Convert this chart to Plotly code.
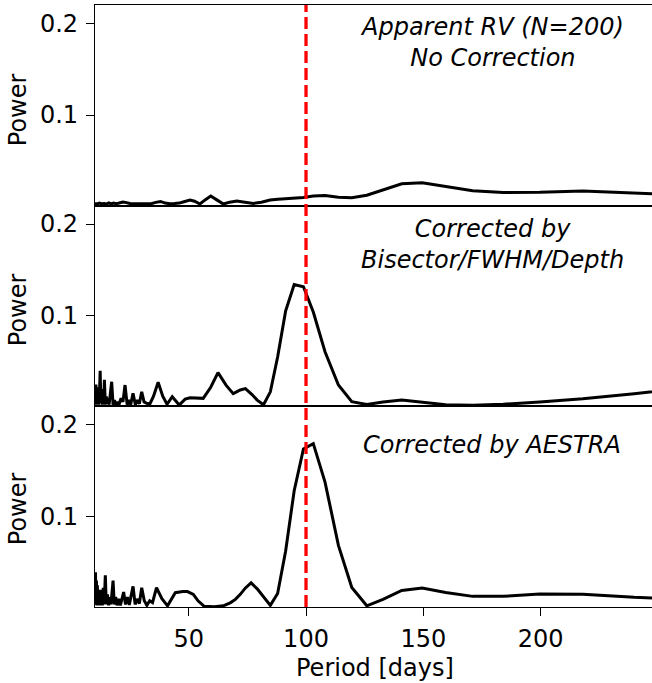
import plotly.graph_objects as go
from plotly.subplots import make_subplots

# ---------------- data ----------------
period_raw = [10.1, 11, 12, 13, 14, 15, 16, 17, 18, 19, 20, 21, 22, 23, 24, 25, 26, 28, 30, 32,
              34, 36, 38, 40, 42, 44, 46, 48, 50.6, 52.5, 54.8, 57, 59.4, 62, 64.8, 67.5, 70.5,
              74, 77.6, 81, 84.7, 88, 91.3, 95, 98.9, 103.1, 108.1, 113.8, 119.5, 125.9, 132.8,
              140.8, 149.5, 159.5, 171, 184, 199.6, 217.9, 239.8, 266.7]
power_raw = [0.0035, 0.0030, 0.0040, 0.0032, 0.0036, 0.0030, 0.0042, 0.0031, 0.0040, 0.0033,
             0.0038, 0.0045, 0.0052, 0.0048, 0.0040, 0.0036, 0.0034, 0.0035, 0.0033, 0.0036,
             0.0034, 0.0048, 0.0058, 0.0040, 0.0033, 0.0035, 0.0040, 0.0055, 0.0073, 0.0060,
             0.0030, 0.0075, 0.0117, 0.0075, 0.0030, 0.0050, 0.0063, 0.0050, 0.0037, 0.0050,
             0.0073, 0.0082, 0.0085, 0.0090, 0.0100, 0.0117, 0.0122, 0.0105, 0.0098, 0.0125,
             0.0180, 0.0250, 0.0262, 0.0220, 0.0175, 0.0155, 0.0158, 0.0172, 0.0148, 0.0120]

period_bis = [10.1, 10.3, 10.5, 10.7, 10.9, 11.1, 11.4, 11.7, 12.0, 12.3, 12.6, 12.9, 13.2, 13.5,
              13.8, 14.1, 14.5, 14.9, 15.3, 15.7, 16.1, 16.6, 17.2, 17.8, 18.4, 19.0, 19.6, 20.3,
              21.2, 22.0, 22.9, 23.8, 24.6, 25.3, 26.3, 27.3, 28.2, 29.0, 30.0, 31.0, 32.1, 33.5,
              35.0, 37.0, 39.0, 40.8, 43.0, 46.0, 48.5, 50.6, 53.0, 56.2, 59.4, 62.5, 66.0, 69.0,
              72.0, 74.2, 77.0, 79.2, 81.9, 84.8, 87.9, 91.3, 94.96, 98.9, 103.1, 108.1, 113.8,
              119.5, 125.9, 132.8, 140.8, 149.5, 159.5, 171, 184, 199.6, 217.9, 239.8, 266.7]
power_bis = [0.020, 0.004, 0.025, 0.003, 0.018, 0.004, 0.022, 0.003, 0.015, 0.040, 0.005, 0.012,
             0.003, 0.020, 0.004, 0.030, 0.003, 0.012, 0.004, 0.010, 0.003, 0.012, 0.028, 0.003,
             0.008, 0.003, 0.006, 0.003, 0.010, 0.006, 0.0244, 0.003, 0.008, 0.003, 0.0154, 0.003,
             0.008, 0.004, 0.0171, 0.006, 0.0045, 0.004, 0.012, 0.0274, 0.012, 0.0035, 0.0117,
             0.0026, 0.009, 0.0105, 0.0103, 0.0099, 0.022, 0.038, 0.024, 0.0150, 0.019, 0.0205,
             0.014, 0.008, 0.003, 0.017, 0.055, 0.105, 0.134, 0.1316, 0.104, 0.0607, 0.0244,
             0.0062, 0.0032, 0.006, 0.008, 0.006, 0.003, 0.0025, 0.0035, 0.006, 0.0095, 0.0150,
             0.0224]

period_aes = [10.1, 10.3, 10.5, 10.7, 10.9, 11.1, 11.3, 11.6, 11.9, 12.3, 12.6, 12.9, 13.2, 13.6,
              14.0, 14.5, 14.9, 15.4, 15.9, 16.4, 16.9, 17.4, 17.8, 18.3, 18.9, 19.5, 20.2, 20.9,
              21.6, 22.3, 23.1, 23.9, 24.7, 25.5, 26.3, 27.2, 28.1, 29.0, 30.0, 31.1, 32.2, 33.4,
              34.6, 36.3, 38.6, 41.0, 44.3, 47.5, 49.5, 52.0, 54.0, 56.6, 60.9, 64.8, 67.9, 69.9,
              72.0, 74.2, 76.6, 79.2, 81.9, 84.8, 87.9, 91.3, 94.96, 98.9, 103.1, 108.1, 113.8,
              119.5, 125.9, 132.8, 140.8, 149.5, 159.5, 171, 184, 199.6, 217.9, 239.8, 266.7]
power_aes = [0.010, 0.039, 0.004, 0.030, 0.003, 0.025, 0.004, 0.020, 0.003, 0.020, 0.004, 0.015,
             0.003, 0.022, 0.004, 0.0357, 0.004, 0.015, 0.003, 0.012, 0.004, 0.020, 0.030, 0.004,
             0.012, 0.003, 0.010, 0.003, 0.012, 0.0175, 0.004, 0.012, 0.0035, 0.015, 0.0237,
             0.004, 0.010, 0.005, 0.0222, 0.008, 0.003, 0.008, 0.006, 0.0222, 0.0103, 0.0025,
             0.0168, 0.018, 0.018, 0.0150, 0.008, 0.002, 0.0015, 0.0025, 0.006, 0.0095, 0.015,
             0.022, 0.0275, 0.021, 0.0125, 0.003, 0.016, 0.062, 0.128, 0.1735, 0.1793, 0.1374,
             0.0684, 0.0225, 0.0025, 0.0095, 0.0193, 0.0218, 0.017, 0.0128, 0.0128, 0.0155,
             0.015, 0.0118, 0.0095]

panel_labels = ["Apparent RV (N=200)<br>No Correction",
                "Corrected by<br>Bisector/FWHM/Depth",
                "Corrected by AESTRA"]
true_period = 100
x_ticks = [50, 100, 150, 200]
y_ticks = [0.1, 0.2]
y_tick_text = ["0.1", "0.2"]

# ---------------- figure ----------------
FONT = "DejaVu Sans"
FS = 24
fig = make_subplots(rows=3, cols=1, shared_xaxes=True, vertical_spacing=0)

series = [(period_raw, power_raw), (period_bis, power_bis), (period_aes, power_aes)]
for i, (px, py) in enumerate(series, start=1):
    fig.add_trace(go.Scatter(x=px, y=py, mode="lines",
                             line=dict(color="black", width=3), showlegend=False,
                             hoverinfo="skip"), row=i, col=1)

for i in range(1, 4):
    fig.update_xaxes(range=[10.1, 247.4], showgrid=False, zeroline=False,
                     showline=True, linecolor="black", linewidth=1.3, mirror=True,
                     tickvals=x_ticks, ticks="outside" if i == 3 else "",
                     ticklen=8, tickwidth=1.3, tickcolor="black",
                     showticklabels=(i == 3), ticklabelstandoff=2,
                     tickfont=dict(family=FONT, size=FS, color="black"),
                     row=i, col=1)
    fig.update_yaxes(range=[0.0012, 0.22], showgrid=False, zeroline=False,
                     showline=True, linecolor="black", linewidth=1.3, mirror=False,
                     tickvals=y_ticks, ticktext=y_tick_text, ticks="outside",
                     ticklen=8, tickwidth=1.3, tickcolor="black", ticklabelstandoff=3,
                     tickfont=dict(family=FONT, size=FS, color="black"),
                     row=i, col=1)

# red dashed line across all panels
fig.add_shape(type="line", xref="x3", yref="paper", x0=true_period, x1=true_period,
              y0=0, y1=1, line=dict(color="#ff0000", width=3.3, dash="12px,5px"),
              layer="above")

ann_y = [0.9375, 0.6027, 0.2696]
for txt, yy in zip(panel_labels, ann_y):
    fig.add_annotation(text="<i>" + txt + "</i>", xref="paper", yref="paper",
                       x=0.7128, y=yy, xanchor="center", yanchor="middle",
                       showarrow=False, align="center",
                       font=dict(family=FONT, size=FS, color="black"))

for yy in [0.8261, 0.4939, 0.1633]:
    fig.add_annotation(text="Power", xref="paper", yref="paper", x=-0.1391, y=yy,
                       xanchor="center", yanchor="middle", textangle=-90,
                       showarrow=False, font=dict(family=FONT, size=FS, color="black"))

fig.add_annotation(text="Period [days]", xref="paper", yref="paper", x=0.5018, y=-0.101,
                   xanchor="center", yanchor="middle", showarrow=False,
                   font=dict(family=FONT, size=FS, color="black"))

fig.update_layout(width=652, height=683, margin=dict(l=95, r=0, t=5, b=76),
                  paper_bgcolor="white", plot_bgcolor="white")

fig.write_html("out.html")
